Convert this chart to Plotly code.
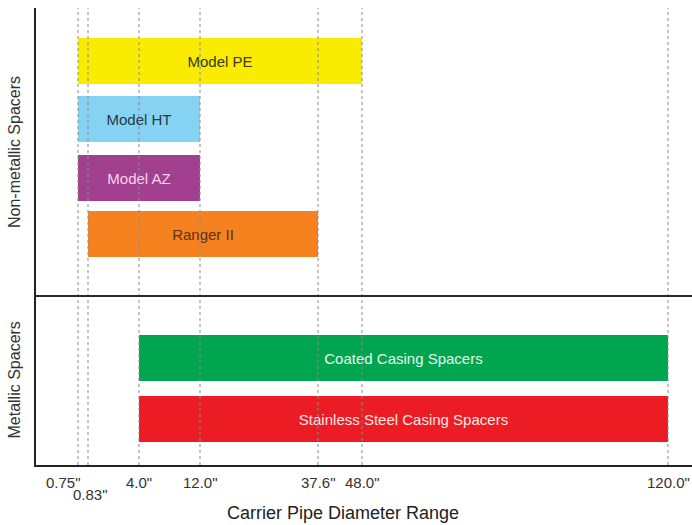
import numpy as np
import plotly.graph_objects as go

# ---- data ----
products = ["Model PE", "Model HT", "Model AZ", "Ranger II",
            "Coated Casing Spacers", "Stainless Steel Casing Spacers"]
start_in = [0.75, 0.75, 0.75, 0.83, 4.0, 4.0]
end_in = [48.0, 12.0, 12.0, 37.6, 120.0, 120.0]
groups = ["Non-metallic Spacers", "Metallic Spacers"]
tick_values = [0.75, 0.83, 4.0, 12.0, 37.6, 48.0, 120.0]
tick_labels = ['0.75"', '0.83"', '4.0"', '12.0"', '37.6"', '48.0"', '120.0"']

# ---- layout / styling ----
bar_colors = ["#F9EC00", "#86D2F2", "#A2408F", "#F5811F", "#00A54F", "#EC1C24"]
text_colors = ["#3a3a20", "#26384d", "#f6d3ee", "#5a3413", "#e6f6ea", "#fde6e6"]
# schematic (non-linear) axis: position of each tick on the drawing
tick_slots = [42, 52, 103, 164, 282, 326, 632]
row_pos = [53, 111, 170, 226, 350, 411]
sep_pos = 288
PLOT_W, PLOT_H = 656, 457
FONT = "Liberation Sans, Arial, sans-serif"


def to_slot(v):
    return float(np.interp(v, tick_values, tick_slots))


starts = [to_slot(v) for v in start_in]
ends = [to_slot(v) for v in end_in]

fig = go.Figure()
fig.add_trace(go.Bar(
    y=row_pos,
    x=[e - s for s, e in zip(starts, ends)],
    base=starts,
    orientation="h",
    width=46,
    marker=dict(color=bar_colors, line=dict(width=0)),
    text=products,
    textposition="inside",
    insidetextanchor="middle",
    textangle=0,
    constraintext="none",
    textfont=dict(family=FONT, size=15, color=text_colors),
    hoverinfo="skip",
))

shapes = []
for s in tick_slots:
    shapes.append(dict(type="line", xref="x", yref="paper", x0=s, x1=s, y0=0, y1=1,
                       line=dict(color="#8a8a8a", width=1, dash="dot"), layer="above"))
shapes.append(dict(type="line", xref="paper", yref="y", x0=0, x1=1, y0=sep_pos, y1=sep_pos,
                   line=dict(color="#2a2a2a", width=2), layer="above"))

annotations = []
for i, (s, lab) in enumerate(zip(tick_slots, tick_labels)):
    a = dict(x=s, y=0, xref="x", yref="paper", text=lab, showarrow=False,
             yanchor="top", yshift=-7, xanchor="center",
             font=dict(family=FONT, size=15, color="#333"))
    if i == 0:
        a.update(xanchor="right", xshift=5)
    elif i == 1:
        a.update(yshift=-19, xshift=2)
    annotations.append(a)

annotations.append(dict(x=0.468, y=0, xref="paper", yref="paper", yshift=-36,
                        text="Carrier Pipe Diameter Range", showarrow=False,
                        xanchor="center", yanchor="top",
                        font=dict(family=FONT, size=18, color="#222")))
annotations.append(dict(x=0, xshift=-22, y=(0 + sep_pos) / 2, xref="paper", yref="y",
                        text=groups[0], showarrow=False, textangle=-90,
                        xanchor="center", yanchor="middle",
                        font=dict(family=FONT, size=16, color="#333")))
annotations.append(dict(x=0, xshift=-22, y=(sep_pos + PLOT_H) / 2, xref="paper", yref="y",
                        text=groups[1], showarrow=False, textangle=-90,
                        xanchor="center", yanchor="middle",
                        font=dict(family=FONT, size=16, color="#333")))

fig.update_layout(
    width=692, height=525,
    margin=dict(l=36, r=0, t=8, b=60),
    paper_bgcolor="white", plot_bgcolor="white",
    showlegend=False,
    xaxis=dict(range=[0, PLOT_W], showgrid=False, zeroline=False, showticklabels=False,
               ticks="", showline=True, linecolor="#222", linewidth=2, fixedrange=True),
    yaxis=dict(range=[PLOT_H, 0], showgrid=False, zeroline=False, showticklabels=False,
               ticks="", showline=True, linecolor="#222", linewidth=2, fixedrange=True),
    shapes=shapes,
    annotations=annotations,
    font=dict(family=FONT),
)

fig.write_html("out.html", config={"displayModeBar": False},
               post_script="document.body.style.margin='0';document.body.style.overflow='hidden';")
